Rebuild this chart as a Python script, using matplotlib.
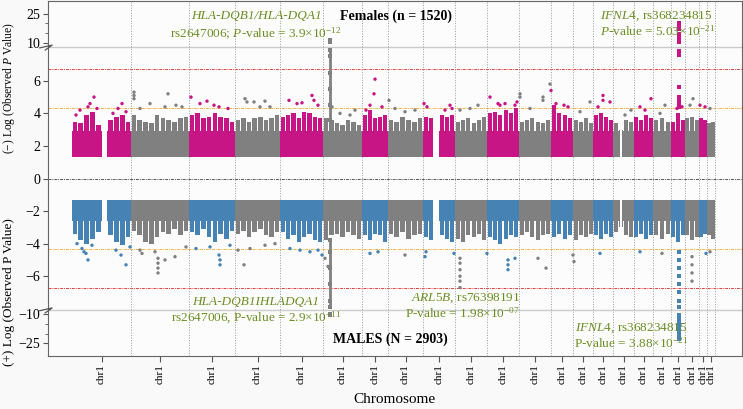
import numpy as np
import matplotlib
matplotlib.use("Agg")
import matplotlib.pyplot as plt
import matplotlib.transforms as mtransforms

plt.rcParams['font.family'] = ['Liberation Serif', 'DejaVu Serif']
plt.rcParams['mathtext.fontset'] = 'custom'
plt.rcParams['mathtext.rm'] = 'Liberation Serif'
plt.rcParams['mathtext.it'] = 'Liberation Serif:italic'
plt.rcParams['mathtext.bf'] = 'Liberation Serif:bold'

# chromosome borders (cumulative position index) and gaps with no SNPs
chrom_edges = [72, 131, 189, 235, 280, 323, 362, 388, 423, 455, 487, 519,
               551, 573, 593, 613, 634, 653, 671, 685, 699, 707, 715]
snp_gaps = [(102, 107), (433, 439), (620, 622)]
tick_labels = ["chr1"] * 22

P_MIN = 1.3          # -log10(0.05), lowest plotted value
SUGGEST = 4.3        # suggestive line
SIGNIF = 6.7         # significance line

# females: dense part (solid) and needle tops per chromosome
fem_base = 2.9
fem_needles = [
    [3.5, 3.4, 3.9, 4.1, 3.3, 3.0, 3.6, 3.8, 3.9, 3.5],
    [3.9, 3.6, 3.5, 3.4, 3.9, 3.7, 3.6, 3.5, 3.7, 3.8],
    [3.9, 4.0, 3.7, 3.8, 4.0, 3.8, 3.7, 3.5],
    [3.6, 3.7, 3.5, 3.7, 3.8, 3.6, 3.7, 3.9],
    [3.8, 3.9, 4.0, 3.7, 4.1, 4.0, 3.8, 3.7],
    [3.7, 3.6, 3.4, 3.3, 3.6, 3.5, 3.3],
    [3.9, 4.2, 3.7, 3.8, 3.9],
    [3.6, 3.5, 3.8, 3.6, 3.5, 3.7],
    [3.8, 3.7, 3.0, 3.9, 3.8, 3.9],
    [3.5, 3.6, 3.7, 3.4, 3.6, 3.8],
    [4.0, 4.1, 3.9, 4.2, 4.0, 4.3],
    [3.5, 3.6, 3.7, 3.5, 3.4, 3.6],
    [4.5, 4.0, 3.9, 3.7],
    [3.6, 3.5, 3.7, 3.4],
    [3.9, 4.0, 3.8, 3.6],
    [3.4, 3.0, 3.6, 3.5],
    [3.8, 3.6, 3.9, 3.7],
    [3.6, 3.7, 3.5],
    [3.5, 4.0, 3.6],
    [3.7, 3.8, 3.6],
    [3.7, 3.6],
    [3.4, 3.5],
]
fem_pt_x = [94, 90, 88, 80, 76, 97, 122, 118, 126, 113,
            134, 134, 134, 168, 150, 165, 182, 140, 176,
            191, 207, 200, 219, 228, 214,
            245, 247, 254, 265, 270, 260,
            289, 302, 312, 314, 318, 297,
            332, 340, 355, 350,
            375, 374, 370, 382, 366,
            389, 395, 405, 415,
            424, 427, 450, 452, 445,
            478, 460, 470,
            490, 498, 500, 505, 515, 517,
            520, 520, 543, 543, 530,
            550, 551, 556, 564, 568,
            590, 580, 603, 603, 598, 610,
            631, 625, 651, 640, 645, 660, 665,
            677, 682, 693, 690, 700, 705, 710]
fem_pt_y = [5.0, 4.6, 4.4, 4.2, 3.9, 4.3, 4.6, 4.3, 4.1, 4.0,
            5.3, 5.1, 4.9, 5.2, 4.6, 4.4, 4.4, 4.3, 4.5,
            5.0, 4.75, 4.6, 4.4, 4.3, 4.5,
            4.9, 4.7, 4.7, 4.75, 4.4, 4.4,
            4.8, 4.65, 5.1, 4.8, 4.5, 4.6,
            4.4, 4.0, 4.2, 3.9,
            6.1, 5.2, 4.5, 4.4, 4.2,
            4.8, 4.3, 4.1, 4.2,
            4.6, 4.4, 4.5, 4.3, 4.2,
            4.5, 4.2, 4.3,
            5.0, 4.6, 4.5, 4.6, 4.5, 4.7,
            5.2, 5.0, 5.0, 4.8, 4.3,
            5.8, 5.4, 4.6, 4.5, 4.4,
            4.7, 4.1, 5.1, 4.8, 4.4, 4.7,
            4.2, 3.9, 4.9, 4.4, 4.2, 4.0, 4.5,
            4.3, 4.4, 4.9, 4.5, 4.5, 4.4, 4.3]

# males
male_base = 2.6
male_needles = [
    [3.4, 3.8, 4.0, 3.7, 3.3, 2.6, 3.5, 3.9, 4.1, 3.6],
    [3.2, 3.5, 3.9, 4.0, 3.6, 3.3, 3.4, 3.1, 3.5, 3.2],
    [3.3, 3.5, 3.1, 3.6, 3.9, 3.4, 3.7, 3.2],
    [3.4, 3.2, 3.6, 3.3, 3.1, 3.5, 3.6, 3.3],
    [3.3, 3.7, 3.5, 3.9, 3.6, 3.4, 3.8, 3.9],
    [3.8, 3.5, 3.4, 3.6, 3.3, 3.5, 3.7],
    [3.5, 3.8, 3.4, 3.5, 3.9],
    [3.4, 3.6, 3.3, 3.7, 3.5, 3.4],
    [3.6, 3.8, 2.6, 3.5, 3.7, 3.9],
    [3.7, 3.9, 3.5, 3.6, 3.4, 3.8],
    [3.6, 3.8, 4.0, 3.7, 3.5, 3.6],
    [3.5, 3.3, 3.6, 3.8, 3.5, 3.4],
    [3.6, 3.4, 3.7, 3.5],
    [3.8, 3.5, 3.6, 3.4],
    [3.5, 3.7, 3.4, 3.6],
    [3.3, 3.0, 3.5, 3.6],
    [3.6, 3.4, 3.7, 3.5],
    [3.5, 3.7, 3.4],
    [3.6, 3.9, 3.5],
    [3.5, 3.8, 3.6],
    [3.6, 3.4],
    [3.5, 3.7],
]
male_pt_x = [82, 86, 88, 84, 77, 92, 121, 126, 116, 130,
             140, 155, 158, 158, 158, 158, 165, 175, 186, 142,
             220, 220, 219, 196, 210, 230,
             244, 238, 250, 265, 275,
             290, 300, 310, 318,
             322, 325, 328,
             370, 378,
             405, 425, 426, 454,
             460, 460, 460, 460, 460, 460,
             487, 508, 508, 508, 515, 538, 546,
             573, 574, 600, 640, 662,
             692, 692, 692, 692, 706, 710]
male_pt_y = [4.3, 4.6, 5.0, 4.5, 4.0, 4.1, 4.7, 5.3, 4.4, 4.2,
             4.4, 4.5, 5.2, 5.5, 5.8, 4.9, 5.0, 4.8, 4.2, 4.6,
             5.0, 5.3, 4.7, 4.3, 4.2, 4.1,
             5.3, 4.4, 4.3, 4.1, 4.0,
             4.3, 4.4, 4.5, 4.4,
             4.7, 4.9, 5.4,
             4.6, 4.5,
             4.7, 4.8, 4.5, 4.6,
             5.2, 5.6, 6.0, 6.3, 6.7, 4.9,
             4.6, 5.0, 5.3, 5.6, 4.9, 4.9, 5.5,
             4.7, 5.1, 4.6, 4.5, 4.6,
             4.8, 5.3, 5.8, 6.3, 4.6, 4.5]

# top hits (columns of SNPs in LD)
hla_x = 330
fem_hla_y = [3.6, 4.5, 5.5, 6.5, 7.5, 7.9, 10.2, 10.8, 11.4]
male_hla_y = [3.8, 4.5, 5.5, 6.5, 7.5, 7.9, 10.0, 10.5]
ifnl4_x = 679
fem_ifnl4_y = [4.4, 4.6, 4.8, 5.0, 5.6, 7.6, 7.8, 10.2, 10.6, 12.0, 12.6,
               13.3, 14.3, 17.0, 18.2, 19.3, 20.3]
male_ifnl4_y = [4.5, 5.0, 5.5, 6.0, 6.5, 7.0, 7.5, 7.9, 10.2, 11.0, 12.0,
                13.0, 14.0, 15.0, 16.0, 17.0, 18.0, 19.0, 20.0, 21.0, 22.0, 23.0]

PINK = '#C71585'
GREY = '#808080'
BLUE = '#4682B4'
GREEN = '#6B8E23'
BREAK = 8.07


def tr(v):
    """broken y scale: linear to 8, compressed above 10"""
    v = np.asarray(v, dtype=float)
    a = np.abs(v)
    out = np.where(a <= BREAK, a, 8.35 + 0.118 * (a - 10))
    return np.sign(v) * out


def chrom_color(x, odd, even):
    for i in range(len(chrom_edges) - 1):
        if chrom_edges[i] <= x < chrom_edges[i + 1]:
            return odd if i % 2 == 0 else even
    return even


def pieces(a, b):
    segs = [(a, b)]
    for g0, g1 in snp_gaps:
        new = []
        for s0, s1 in segs:
            if g1 <= s0 or g0 >= s1:
                new.append((s0, s1))
            else:
                if s0 < g0:
                    new.append((s0, g0))
                if g1 < s1:
                    new.append((g1, s1))
        segs = new
    return segs


def draw_side(ax, sign, base, needles, px, py, c_odd, c_even):
    for i, h in enumerate(needles):
        x0, x1 = chrom_edges[i], chrom_edges[i + 1]
        col = c_odd if i % 2 == 0 else c_even
        w = (x1 - x0) / len(h)
        for k, hk in enumerate(h):
            b0 = x0 + k * w
            for s0, s1 in pieces(b0, b0 + w):
                ax.bar(s0, sign * (base - P_MIN), width=s1 - s0, bottom=sign * P_MIN,
                       align='edge', color=col, linewidth=0)
            c = b0 + w / 2
            nw = w * 0.8
            for s0, s1 in pieces(c - nw / 2, c + nw / 2):
                ax.bar(s0, sign * (hk - base), width=s1 - s0, bottom=sign * base,
                       align='edge', color=col, linewidth=0)
    cols = [chrom_color(x, c_odd, c_even) for x in px]
    ax.scatter(px, tr(sign * np.array(py)), s=6, c=cols, linewidths=0, zorder=3)


fig = plt.figure(figsize=(7.43, 4.09), dpi=100)
fig.patch.set_facecolor('#f9f9f9')
ax = fig.add_axes([48 / 743, 53 / 409, 693.7 / 743, 355 / 409])
ax.set_facecolor('#fcfcfc')

# reference lines
for v in (SIGNIF, -SIGNIF):
    ax.axhline(v, color='#e04040', lw=0.7, ls=(0, (3, 1, 1, 1)), zorder=1)
for v in (SUGGEST, -SUGGEST):
    ax.axhline(v, color='#f2b440', lw=0.7, ls=(0, (3, 1, 1, 1)), zorder=1)
ax.axhline(0, color='#555555', lw=0.7, ls=(0, (3, 1, 1, 1)), zorder=1)
for v in (BREAK, -BREAK):
    ax.axhline(v, color='#cccccc', lw=1.0, zorder=1)
for x in chrom_edges[1:]:
    ax.axvline(x, color='#999999', lw=0.7, ls=':', zorder=1)

draw_side(ax, 1, fem_base, fem_needles, fem_pt_x, fem_pt_y, PINK, GREY)
draw_side(ax, -1, male_base, male_needles, male_pt_x, male_pt_y, BLUE, GREY)

ax.scatter([hla_x] * len(fem_hla_y), tr(fem_hla_y), s=5, c=GREY, marker='s', linewidths=0, zorder=3)
ax.vlines(hla_x, fem_hla_y[0], BREAK - 0.1, color=GREY, lw=2.0, zorder=3)
ax.vlines(hla_x, tr(10.2), tr(11.4), color=GREY, lw=2.0, zorder=3)
ax.scatter([hla_x] * len(male_hla_y), tr(-np.array(male_hla_y)), s=5, c=GREY, marker='s', linewidths=0, zorder=3)
ax.vlines(hla_x, -male_hla_y[0], -BREAK + 0.1, color=GREY, lw=2.0, zorder=3)
ax.vlines(hla_x, tr(-10.0), tr(-10.5), color=GREY, lw=2.0, zorder=3)
ax.scatter([ifnl4_x] * len(fem_ifnl4_y), tr(fem_ifnl4_y), s=6, c=PINK, marker='s', linewidths=0, zorder=3)
ax.scatter([ifnl4_x] * len(male_ifnl4_y), tr(-np.array(male_ifnl4_y)), s=6, c=BLUE, marker='s', linewidths=0, zorder=3)

ax.set_xlim(48, 741.7)
ax.set_ylim(-10.9, 10.9)

# y ticks on broken scale
major = [-25, -10, -6, -4, -2, 0, 2, 4, 6, 10, 25]
ax.set_yticks(tr(major))
ax.set_yticklabels(['\u221225', '\u221210', '\u22126', '\u22124', '\u22122', '0',
                    '2', '4', '6', '10', '25'], fontsize=10)
ax.set_yticks(tr([-20, -15, 15, 20]), minor=True)
ax.tick_params(axis='y', which='both', direction='out', color='#555555', pad=2)

centers = [(chrom_edges[i] + chrom_edges[i + 1]) / 2 for i in range(22)]
ax.set_xticks(centers)
ax.set_xticklabels(tick_labels, rotation=90, fontsize=8)
ax.tick_params(axis='x', direction='out', length=4, color='#555555', pad=2)

for s in ax.spines.values():
    s.set_color('#666666')
    s.set_linewidth(0.8)

# break marks on the left spine
trans = mtransforms.blended_transform_factory(ax.transAxes, ax.transData)
for yb in (BREAK, -BREAK):
    ax.plot([-0.012, 0.006, -0.004], [yb - 0.05, yb + 0.12, yb - 0.18], transform=trans,
            color='#555555', lw=0.9, clip_on=False, zorder=5)

ax.set_xlabel('Chromosome', fontsize=11, labelpad=6)
fig.text(0.012, 0.785, '(\u2212) Log (Observed $P$ Value)', rotation=90, ha='center',
         va='center', fontsize=8.3)
fig.text(0.012, 0.285, '(+) Log (Observed P Value)', rotation=90, ha='center',
         va='center', fontsize=9.5)

# annotations
ax.text(396, 9.97, 'Females (n = 1520)', ha='center', va='center', fontsize=10, fontweight='bold')
ax.text(390, -9.9, 'MALES (N = 2903)', ha='center', va='center', fontsize=10, fontweight='bold')
ax.text(256, 9.97, 'HLA-DQB1/HLA-DQA1', ha='center', va='center', fontsize=9.5,
        style='italic', color=GREEN)
ax.text(256, 8.87, 'rs2647006; $P$-value = 3.9\u00d710$^{-12}$', ha='center', va='center',
        fontsize=9.5, color=GREEN)
ax.text(600, 9.97, '$\\it{IFNL4}$, rs368234815', ha='left', va='center', fontsize=9.5, color=GREEN)
ax.text(600, 9.05, '$P$-value = 5.03\u00d710$^{-21}$', ha='left', va='center', fontsize=9.5, color=GREEN)
ax.text(256, -7.58, 'HLA-DQB1IHLADQA1', ha='center', va='center', fontsize=9.5,
        style='italic', color=GREEN)
ax.text(256, -8.56, 'rs2647006, P-value = 2.9\u00d710$^{-11}$', ha='center', va='center',
        fontsize=9.5, color=GREEN)
ax.text(466, -7.34, '$\\it{ARL5B}$, rs76398191', ha='center', va='center', fontsize=9.5, color=GREEN)
ax.text(462, -8.26, 'P-value = 1.98\u00d710$^{-07}$', ha='center', va='center', fontsize=9.5, color=GREEN)
ax.text(631, -9.17, '$\\it{IFNL4}$, rs368234815', ha='center', va='center', fontsize=9.5, color=GREEN)
ax.text(631, -10.09, 'P-value = 3.88\u00d710$^{-21}$', ha='center', va='center', fontsize=9.5, color=GREEN)

fig.savefig('out.png', dpi=100, facecolor=fig.get_facecolor())
